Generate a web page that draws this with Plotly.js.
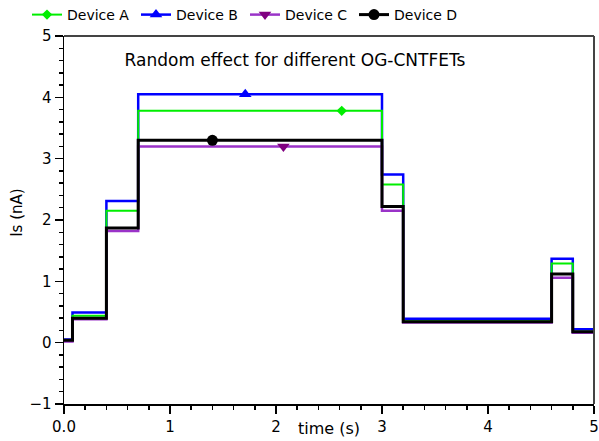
<!DOCTYPE html>
<html>
<head>
<meta charset="utf-8">
<script src="https://cdn.plot.ly/plotly-3.0.1.min.js"></script>
<style>html,body{margin:0;padding:0;background:#fff;}#chart{width:599px;height:441px;}</style>
</head>
<body>
<div id="chart"></div>
<script>
// step breakpoints (time, s)
const timeSteps = [0, 0.08, 0.4, 0.7, 3.0, 3.2, 4.6, 4.8, 5.0];
// Is (nA) levels starting at each breakpoint
const deviceA = [0.03, 0.44, 2.15, 3.78, 2.58, 0.35, 1.29, 0.18, 0.18];
const deviceB = [0.05, 0.49, 2.31, 4.05, 2.74, 0.39, 1.37, 0.22, 0.22];
const deviceC = [0.02, 0.38, 1.82, 3.20, 2.15, 0.33, 1.06, 0.16, 0.16];
const deviceD = [0.04, 0.40, 1.87, 3.30, 2.22, 0.34, 1.12, 0.18, 0.18];
const seriesNames = ["Device A", "Device B", "Device C", "Device D"];
// single marker position on each curve
const markerTimes = [2.62, 1.71, 2.07, 1.40];
const markerLevels = [3.78, 4.05, 3.20, 3.30];
const xTickVals = [0, 1, 2, 3, 4, 5];
const xTickText = ["0.0", "1", "2", "3", "4", "5"];
const yTickVals = [-1, 0, 1, 2, 3, 4, 5];
const yTickText = ["\u22121", "0", "1", "2", "3", "4", "5"];

const allSeries = [deviceA, deviceB, deviceC, deviceD];
const lineColors = ["#00ee00", "#0000ff", "#9a33c8", "#000000"];
const markColors = ["#00ee00", "#0000ff", "#800080", "#000000"];
const symbols = ["diamond", "triangle-up", "triangle-down", "circle"];
const widths = [2, 2.5, 2.5, 3];
const msizes = [8, 11, 11, 11];
const drawOrder = [1, 0, 2, 3];

const traces = [];
drawOrder.forEach(i => {
  traces.push({
    x: timeSteps, y: allSeries[i], type: 'scatter', mode: 'lines',
    line: {shape: 'hv', color: lineColors[i], width: widths[i]},
    showlegend: false, hoverinfo: 'skip'
  });
});
[0,1,2,3].forEach(i => {
  traces.push({
    x: [markerTimes[i]], y: [markerLevels[i]], type: 'scatter', mode: 'lines+markers',
    name: seriesNames[i],
    line: {color: lineColors[i], width: widths[i]},
    marker: {symbol: symbols[i], size: msizes[i], color: markColors[i]}
  });
});

const FF = 'DejaVu Sans, sans-serif';
const layout = {
  width: 599, height: 441,
  margin: {l: 63.5, r: 5, t: 35.5, b: 37},
  paper_bgcolor: '#fff', plot_bgcolor: '#fff',
  font: {family: FF, size: 13, color: '#000'},
  title: {text: 'Random effect for different OG-CNTFETs', font: {family: FF, size: 17, color: '#000'},
          xref: 'container', yref: 'container', x: 295/599, y: 1 - 60/441, xanchor: 'center', yanchor: 'middle'},
  showlegend: true,
  legend: {orientation: 'h', xref: 'container', yref: 'container', x: 27/599, y: 1 - 15/441,
           xanchor: 'left', yanchor: 'middle', font: {family: FF, size: 14, color: '#000'},
           itemwidth: 30, entrywidth: 64, entrywidthmode: 'pixels', tracegroupgap: 0, bgcolor: 'rgba(0,0,0,0)'},
  xaxis: {range: [0, 5], tickvals: xTickVals, ticktext: xTickText, ticks: 'outside', ticklen: 8, tickwidth: 1.5,
          tickcolor: '#000', showgrid: false, zeroline: false, showline: true, linecolor: '#000', linewidth: 1.5,
          minor: {dtick: 0.2, ticks: 'outside', ticklen: 4, tickwidth: 1.5, tickcolor: '#000', showgrid: false},
          tickfont: {family: FF, size: 15}, ticklabeloverflow: 'allow', fixedrange: true},
  yaxis: {range: [-1, 5], tickvals: yTickVals, ticktext: yTickText, ticks: 'outside', ticklen: 8, tickwidth: 1.5,
          tickcolor: '#000', showgrid: false, zeroline: false, showline: true, linecolor: '#000', linewidth: 1.5,
          minor: {dtick: 0.2, ticks: 'outside', ticklen: 4, tickwidth: 1.5, tickcolor: '#000', showgrid: false},
          tickfont: {family: FF, size: 15}, fixedrange: true},
  annotations: [
    {text: 'time (s)', xref: 'paper', yref: 'paper', x: 0.5, y: (404 - 429) / 368.5,
     xanchor: 'center', yanchor: 'middle', showarrow: false, font: {family: FF, size: 16, color: '#000'}},
    {text: 'Is (nA)', xref: 'paper', yref: 'paper', x: (17 - 63.5) / 530.5, y: (404 - 213) / 368.5,
     xanchor: 'center', yanchor: 'middle', textangle: -90, showarrow: false, font: {family: FF, size: 15, color: '#000'}}
  ],
  shapes: [
    {type: 'line', xref: 'paper', yref: 'paper', x0: 0, x1: 1, y0: 1, y1: 1, line: {color: '#444', width: 2}},
    {type: 'line', xref: 'paper', yref: 'paper', x0: 1, x1: 1, y0: 0, y1: 1, line: {color: '#444', width: 2}}
  ]
};
Plotly.newPlot('chart', traces, layout, {displayModeBar: false, staticPlot: true});
</script>
</body>
</html>
